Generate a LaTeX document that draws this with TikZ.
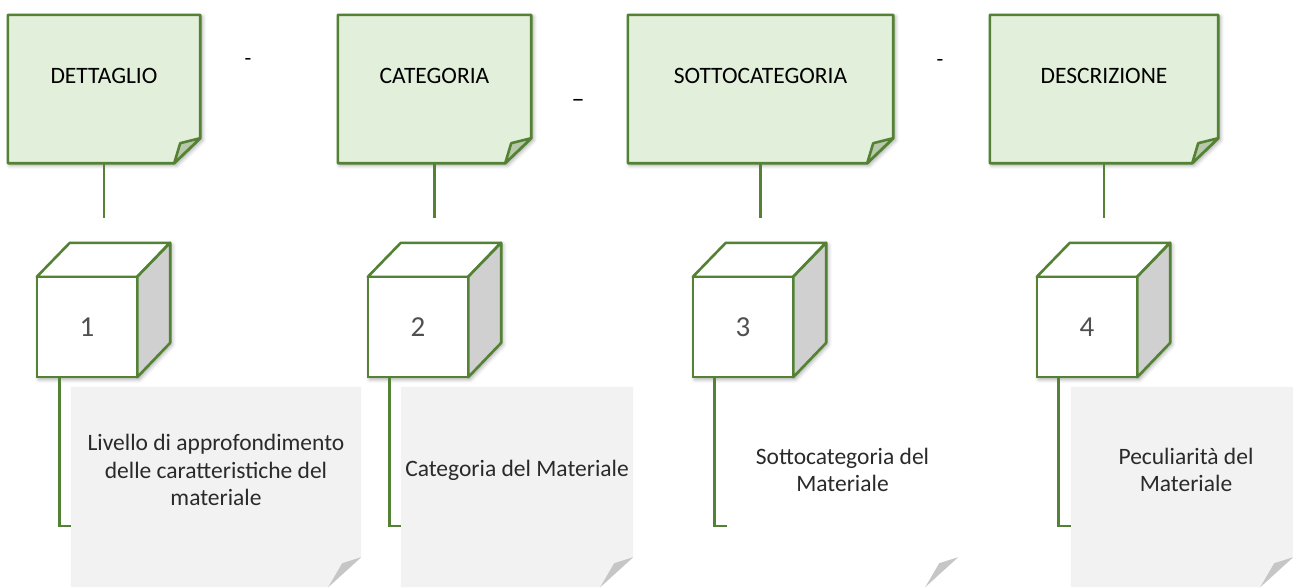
\documentclass[tikz,border=0pt]{standalone}
\usepackage{fontspec}
\setmainfont{Carlito}
\usetikzlibrary{calc,shadows.blur}
\definecolor{gborder}{HTML}{548235}
\definecolor{gfill}{HTML}{E2EFDA}
\definecolor{gfold}{HTML}{B7C9AA}
\definecolor{boxfill}{HTML}{F2F2F2}
\definecolor{boxfold}{HTML}{C6C6C6}
\definecolor{cubeside}{HTML}{D0D0D0}
\definecolor{numgray}{HTML}{505050}
\definecolor{descgray}{HTML}{2A2A2A}
\newcommand\mynote[1]{%
  \draw[gline, fill=gfill, softshadow] (#1.north west) -- (#1.north east) -- ($(#1.south east)+(0,-25)$) -- ($(#1.south east)+(-26,0)$) -- (#1.south west) -- cycle;
  \draw[gline, fill=gfold] ($(#1.south east)+(0,-25)$) -- ($(#1.south east)+(-20,-20)$) -- ($(#1.south east)+(-26,0)$) -- cycle;
}
\newcommand\mycube[1]{%
  \fill[white, softshadow] (#1.north west) -- ++(33,-34) -- ++(100,0) -- ++(0,100) -- (#1.south east) -- (#1.south west) -- cycle;
  \draw[gline, fill=white] (#1.north west) -- ++(33,-34) -- ++(100,0) -- (#1.north east) -- cycle;
  \draw[gline, fill=cubeside] (#1.north east) -- ++(33,-34) -- ++(0,100) -- (#1.south east) -- cycle;
}
\newcommand\mypaper[2]{%
  \fill[#2] (#1.north west) -- (#1.north east) -- ($(#1.south east)+(0,-30)$) -- ($(#1.south east)+(-33,0)$) -- (#1.south west) -- cycle;
  \fill[boxfold] ($(#1.south east)+(0,-30)$) -- ($(#1.south east)+(-19,-24)$) -- ($(#1.south east)+(-33,0)$) -- cycle;
}
\begin{document}
\begin{tikzpicture}[x=1pt,y=-1pt,
  softshadow/.style={blur shadow={shadow xshift=2pt, shadow yshift=-2pt, shadow blur radius=4pt, shadow opacity=35}},
  gline/.style={draw=gborder, line width=2.6pt, line join=round},
  bracket/.style={draw=gborder, line width=2.6pt, line join=miter},
  notebody/.style={minimum width=#1, minimum height=148pt, inner sep=0pt, draw=none},
  papernode/.style={minimum width=#1, minimum height=200pt, inner sep=0pt, draw=none},
  headtext/.style={font=\fontsize{23.5}{27}\selectfont, text=black, inner sep=0pt},
  cubeface/.style={draw=gborder, line width=2.6pt, fill=white, minimum size=100pt, inner sep=0pt, font=\fontsize{29}{32}\selectfont, text=numgray},
  desc/.style={font=\fontsize{23.5}{27.5}\selectfont, text=descgray, align=center, inner sep=0pt},
  dashtext/.style={font=\fontsize{22}{26}\selectfont, text=black, inner sep=0pt}
]
\useasboundingbox (0,0) rectangle (1293,587);

% paper boxes (background)
\node[papernode=290] (b1) at (216,487) {};
\node[papernode=232] (b2) at (517,487) {};
\node[papernode=231] (b3) at (842.5,487) {};
\node[papernode=222] (b4) at (1182,487) {};
\mypaper{b1}{boxfill}
\mypaper{b2}{boxfill}
\mypaper{b3}{white}
\mypaper{b4}{boxfill}

% notes
\node[notebody=192] (n1) at (104,89) {};
\node[notebody=193] (n2) at (434.5,89) {};
\node[notebody=265] (n3) at (760.5,89) {};
\node[notebody=228] (n4) at (1104,89) {};
\mynote{n1}
\mynote{n2}
\mynote{n3}
\mynote{n4}
\node[headtext] (t1) at (104,76) {DETTAGLIO};
\node[headtext] (t2) at (434.5,76) {CATEGORIA};
\node[headtext] (t3) at (760.5,76) {SOTTOCATEGORIA};
\node[headtext] (t4) at (1104,76) {DESCRIZIONE};

% separators
\node[dashtext] (s1) at (248,62) {-};
\node[dashtext, font=\fontsize{26}{30}\selectfont] (s2) at (578,103) {–};
\node[dashtext] (s3) at (940,63) {-};

% stems
\coordinate (e1) at (104,218);
\coordinate (e2) at (434.5,218);
\coordinate (e3) at (760.5,218);
\coordinate (e4) at (1104,218);
\draw[gline] (n1.south) -- (e1);
\draw[gline] (n2.south) -- (e2);
\draw[gline] (n3.south) -- (e3);
\draw[gline] (n4.south) -- (e4);

% cubes
\node[minimum size=100pt, inner sep=0pt] (k1) at (87,327) {};
\node[minimum size=100pt, inner sep=0pt] (k2) at (418,327) {};
\node[minimum size=100pt, inner sep=0pt] (k3) at (743,327) {};
\node[minimum size=100pt, inner sep=0pt] (k4) at (1087,327) {};
\mycube{k1}
\mycube{k2}
\mycube{k3}
\mycube{k4}
\node[cubeface] (f1) at (k1) {1};
\node[cubeface] (f2) at (k2) {2};
\node[cubeface] (f3) at (k3) {3};
\node[cubeface] (f4) at (k4) {4};

% brackets
\draw[bracket] ($(f1.south west)+(24,0)$) |- ($(b1.north west)+(0,139)$);
\draw[bracket] ($(f2.south west)+(23,0)$) |- ($(b2.north west)+(0,139)$);
\draw[bracket] ($(f3.south west)+(23,0)$) |- ($(b3.north west)+(0,139)$);
\draw[bracket] ($(f4.south west)+(23,0)$) |- ($(b4.north west)+(0,139)$);

% descriptions
\node[desc] (d1) at (216,470) {Livello di approfondimento\\delle caratteristiche del\\materiale};
\node[desc] (d2) at (517,470) {Categoria del Materiale};
\node[desc] (d3) at (842.5,470) {Sottocategoria del\\Materiale};
\node[desc] (d4) at (1186,470) {Peculiarità del\\Materiale};
\end{tikzpicture}
\end{document}
